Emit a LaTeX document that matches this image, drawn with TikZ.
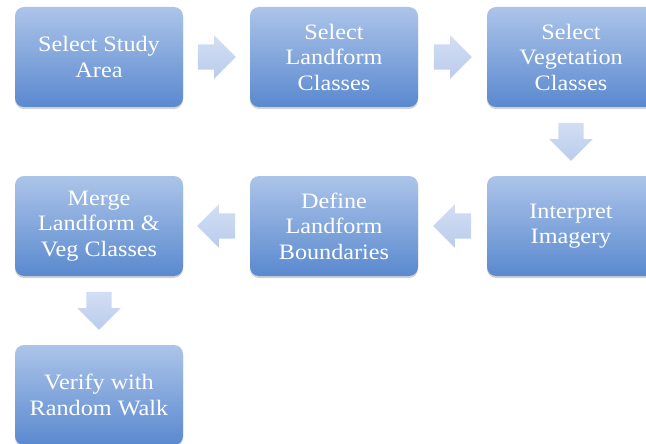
\documentclass[tikz,border=0pt]{standalone}
\usepackage{fontspec}
\setmainfont[FakeStretch=1.1]{Liberation Serif}
\usetikzlibrary{calc,shapes.arrows,shadows}
\definecolor{boxtop}{RGB}{172,196,233}
\definecolor{boxbot}{RGB}{90,137,207}
\definecolor{arrtop}{RGB}{210,222,243}
\definecolor{arrbot}{RGB}{186,204,236}

\begin{document}
\begin{tikzpicture}
  [x=1pt,y=-1pt,
   every node/.style={font=\fontsize{22}{25.5}\selectfont,text=white,align=center},
   stage/.style={rectangle,rounded corners=9pt,minimum width=168pt,minimum height=100pt,
     inner sep=0pt,top color=boxtop,bottom color=boxbot,
     drop shadow={shadow xshift=0pt,shadow yshift=-2pt,opacity=.3,fill=black!60}},
   flow/.style={single arrow,single arrow head extend=9pt,minimum height=38pt,
     inner xsep=0pt,inner ysep=12.5pt,top color=arrtop,bottom color=arrbot,xshift=-6pt}]
  \useasboundingbox (0,0) rectangle (646,444);
  \clip (0,0) rectangle (646,444);

  % first row, left to right
  \node (area) [stage] at (99,57)  {Select Study\\Area};
  \node (land) [stage] at (334,57) {Select\\Landform\\Classes};
  \node (veg)  [stage] at (571,57) {Select\\Vegetation\\Classes};

  % second row, right to left
  \node (img)   [stage] at (571,226) {Interpret\\Imagery};
  \node (bound) [stage] at (334,226) {Define\\Landform\\Boundaries};
  \node (merge) [stage] at (99,226)  {Merge\\Landform \&\\Veg Classes};

  \node (walk) [stage] at (99,395) {Verify with\\Random Walk};

  % block arrows between the stages
  \node (a1) [flow] at ($(area)!0.5!(land)$) {};
  \node (a2) [flow] at ($(land)!0.5!(veg)$) {};
  \node (a3) [rotate=-90,shading angle=-90,flow] at ($(veg)!0.5!(img)$) {};
  \node (a4) [rotate=180,flow] at ($(img)!0.5!(bound)$) {};
  \node (a5) [rotate=180,flow] at ($(bound)!0.5!(merge)$) {};
  \node (a6) [rotate=-90,shading angle=-90,flow] at ($(merge)!0.5!(walk)$) {};
\end{tikzpicture}
\end{document}
